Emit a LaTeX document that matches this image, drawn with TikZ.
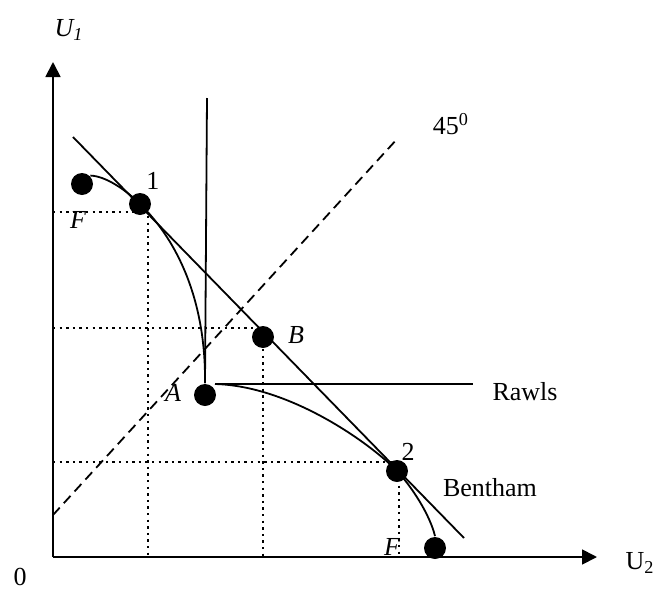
\documentclass[tikz,border=0pt]{standalone}
\usepackage{fontspec}
\setmainfont{Liberation Serif}
\usetikzlibrary{arrows.meta}

\tikzset{
  pt/.style={circle,fill=black,inner sep=0pt,minimum size=11pt},
  guide/.style={line width=1.3pt,dash pattern=on 1.2pt off 2.1pt},
  diag/.style={dash pattern=on 5pt off 3pt},
  lbl/.style={font=\fontsize{13}{15}\selectfont,inner sep=0pt},
  axis/.style={-{Triangle[length=7.5pt,width=7.5pt]}},
}

\begin{document}
\begin{tikzpicture}[x=0.5pt,y=-0.5pt,line width=0.9pt]
  \useasboundingbox (0,0) rectangle (655,590);

  % Axes
  \coordinate (o) at (53,557);
  \coordinate (ytop) at (53,62);
  \coordinate (xend) at (597,557);
  \draw[axis] (o) -- (ytop);
  \draw[axis] (o) -- (xend);
  \node[lbl] (u1) at (69,30) {\itshape U\textsubscript{1}};
  \node[lbl] (u2) at (640,563) {U\textsubscript{2}};
  \node[lbl] (zero) at (20,577) {0};

  % 45 degree line
  \coordinate (dA) at (53,515);
  \coordinate (dB) at (398,138);
  \draw[diag] (dA) -- (dB);
  \node[lbl] (deg) at (451,124) {45\textsuperscript{0}};

  % Points
  \node[pt] (fa) at (82,184) {};
  \node[pt] (p1) at (140,204) {};
  \node[pt] (pb) at (263,337) {};
  \node[pt] (pa) at (205,395) {};
  \node[pt] (p2) at (397,471) {};
  \node[pt] (fb) at (435,548) {};

  % Guides
  \coordinate (g1) at (148,212);
  \coordinate (gb) at (263,328);
  \coordinate (g2) at (399,462);
  \draw[guide] (g1 -| o) -- (g1) -- (g1 |- o);
  \draw[guide] (gb -| o) -- (gb) -- (gb |- o);
  \draw[guide] (g2 -| o) -- (g2) -- (g2 |- o);

  % Frontier
  \draw (fa.north east) .. controls (105,176) and (125,189) .. (p1.center);
  \draw (p1.center) .. controls (177,240) and (206,300) .. (pa.north);
  \coordinate (rl) at (215,384);
  \coordinate (rr) at (473,384);
  \draw (rl) .. controls (290,386) and (370,443) .. (p2.center);
  \draw (p2.center) .. controls (412,487) and (430,515) .. (fb.north);

  % Rawls
  \coordinate (rtop) at (207,98);
  \draw (rtop) -- (pa.north);
  \draw (rl) -- (rr);

  % Bentham
  \coordinate (bt) at (73,137);
  \coordinate (bb) at (464,538);
  \draw (bt) -- (bb);

  % Labels
  \node[lbl] (l1) at (153,181) {1};
  \node[lbl] (lfa) at (78,220) {\itshape F};
  \node[lbl] (lb) at (296,335) {\itshape B};
  \node[lbl] (la) at (173,393) {\itshape A};
  \node[lbl] (lr) at (525,392) {Rawls};
  \node[lbl] (l2) at (408,452) {2};
  \node[lbl] (lben) at (490,488) {Bentham};
  \node[lbl] (lfb) at (392,547) {\itshape F};
\end{tikzpicture}
\end{document}
